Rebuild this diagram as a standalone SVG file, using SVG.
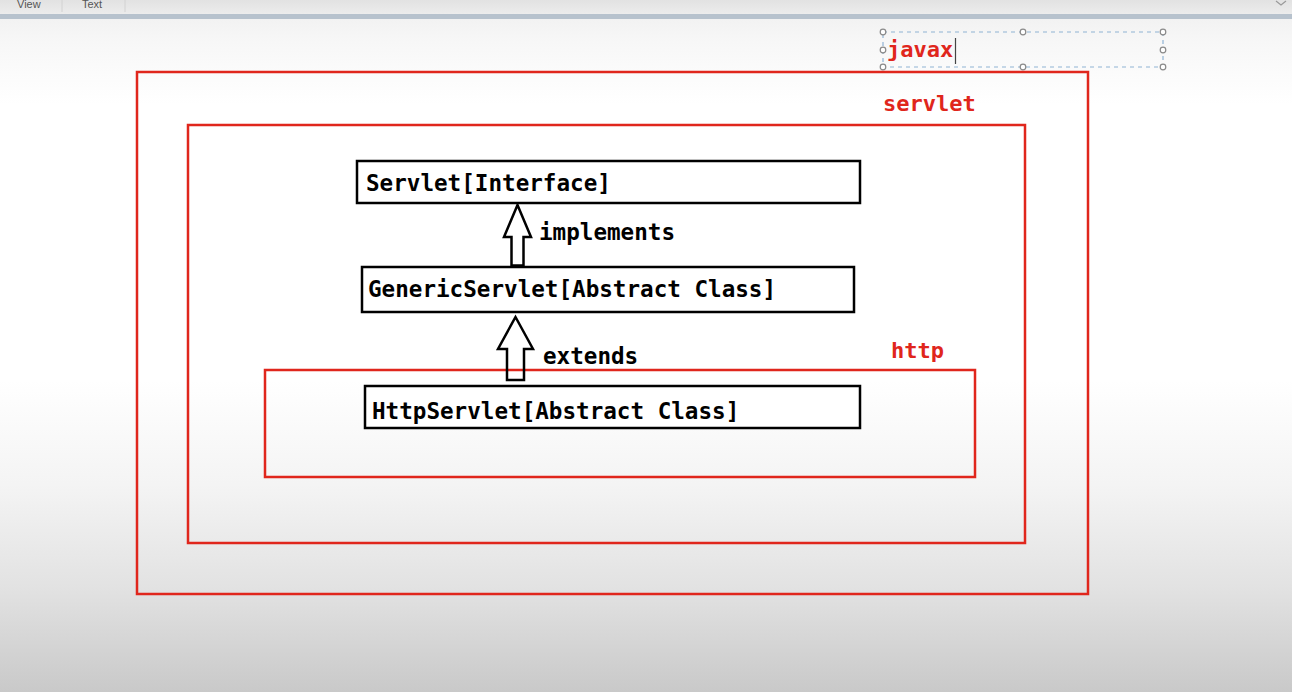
<svg xmlns="http://www.w3.org/2000/svg" width="1292" height="692" viewBox="0 0 1292 692">
<defs>
<linearGradient id="bg" x1="0" y1="0" x2="0" y2="1">
<stop offset="0" stop-color="#eeeeee"/>
<stop offset="0.06" stop-color="#f7f7f7"/>
<stop offset="0.15" stop-color="#ffffff"/>
<stop offset="0.55" stop-color="#ffffff"/>
<stop offset="0.7" stop-color="#f4f4f4"/>
<stop offset="0.85" stop-color="#e2e2e2"/>
<stop offset="1" stop-color="#c9c9c9"/>
</linearGradient>
<linearGradient id="tb" x1="0" y1="0" x2="0" y2="1">
<stop offset="0" stop-color="#e2e2e2"/>
<stop offset="1" stop-color="#ececec"/>
</linearGradient>
</defs>
<style>
.pkg{fill:none;stroke:#e0261c;stroke-width:2.5}
.pkgt{font-family:"DejaVu Sans Mono","Liberation Mono",monospace;font-weight:bold;font-size:22px;fill:#e0261c}
.box{fill:#ffffff;stroke:#000000;stroke-width:2.5}
.t{font-family:"DejaVu Sans Mono","Liberation Mono",monospace;font-weight:bold;font-size:22.6px;fill:#000000}
.arr{fill:none;stroke:#000000;stroke-width:2.5;stroke-linejoin:miter}
.ui{font-family:"Liberation Sans",Arial,sans-serif;font-size:11px;fill:#555555}
.hd{fill:#ffffff;stroke:#8a8a8a;stroke-width:1.2}
</style>
<rect x="0" y="0" width="1292" height="692" fill="url(#bg)"/>
<g id="toolbar">
<rect x="0" y="0" width="1292" height="14" fill="url(#tb)"/>
<rect x="0" y="14" width="1292" height="5" fill="#b7c2cd"/>
<text class="ui" x="17" y="8">View</text>
<text class="ui" x="82" y="8">Text</text>
<line x1="62" y1="0" x2="62" y2="12" stroke="#d2d2d2"/>
<line x1="125" y1="0" x2="125" y2="12" stroke="#d2d2d2"/>
<path d="M1276,1 L1281,5 L1286,1" fill="none" stroke="#999999" stroke-width="1.2"/>
</g>
<g id="javax">
<rect x="883" y="32" width="280" height="35" fill="none" stroke="#8fb3d4" stroke-width="1.2" stroke-dasharray="4 4"/>
<circle class="hd" cx="883" cy="32" r="2.8"/>
<circle class="hd" cx="1023" cy="32" r="2.8"/>
<circle class="hd" cx="1163" cy="32" r="2.8"/>
<circle class="hd" cx="883" cy="50" r="2.8"/>
<circle class="hd" cx="1163" cy="50" r="2.8"/>
<circle class="hd" cx="883" cy="67" r="2.8"/>
<circle class="hd" cx="1023" cy="67" r="2.8"/>
<circle class="hd" cx="1163" cy="67" r="2.8"/>
<text class="pkgt" x="887" y="57">javax</text>
<line x1="955.5" y1="38" x2="955.5" y2="64" stroke="#444444" stroke-width="1.2"/>
</g>
<g id="pkg-javax">
<rect class="pkg" x="137" y="72" width="951" height="522"/>
</g>
<g id="pkg-servlet">
<rect class="pkg" x="188" y="125" width="837" height="418"/>
<text class="pkgt" x="883" y="111">servlet</text>
</g>
<g id="pkg-http">
<rect class="pkg" x="265" y="370" width="710" height="107"/>
<text class="pkgt" x="891" y="358">http</text>
</g>
<g id="node-servlet">
<rect class="box" x="357" y="161" width="503" height="42"/>
<text class="t" x="366" y="191">Servlet[Interface]</text>
</g>
<g id="node-generic">
<rect class="box" x="362" y="267" width="492" height="45"/>
<text class="t" x="368" y="297">GenericServlet[Abstract Class]</text>
</g>
<g id="node-http">
<rect class="box" x="365" y="386" width="495" height="42"/>
<text class="t" x="372" y="419">HttpServlet[Abstract Class]</text>
</g>
<g id="connectors">
<polygon class="arr" points="517.5,205 531,237 523.5,237 523.5,265.5 511.5,265.5 511.5,237 504,237"/>
<text class="t" x="539" y="240">implements</text>
<polygon class="arr" points="515.5,317 533,349 524,349 524,380 507,380 507,349 498,349"/>
<text class="t" x="543" y="364">extends</text>
</g>
</svg>
